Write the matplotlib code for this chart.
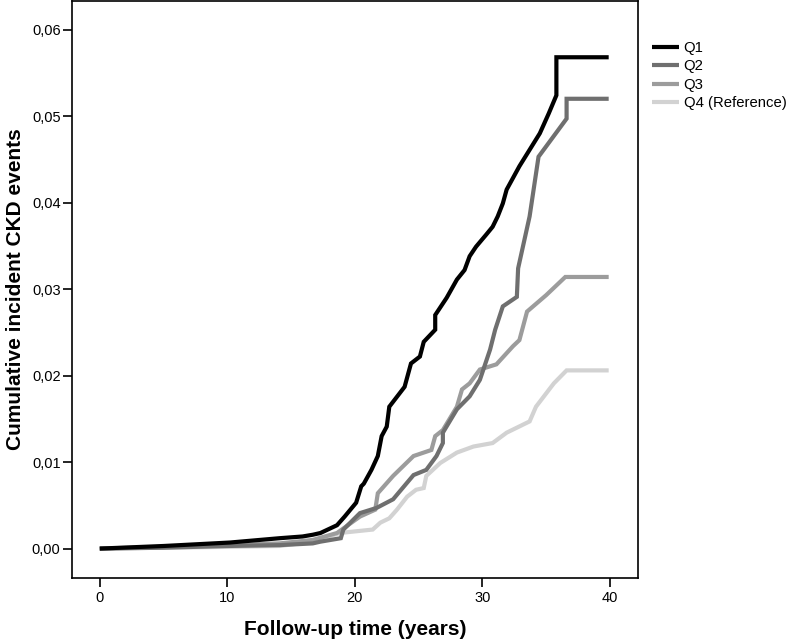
import numpy as np
import matplotlib.pyplot as plt

plt.rcParams['font.family'] = ['Liberation Sans', 'DejaVu Sans']

# follow-up time (years) and cumulative incidence for each quartile
q1_t = [0, 5, 10.2, 14.1, 15.9, 16.7, 17.3, 18.6, 19.2, 20.1, 20.5, 20.7, 21.3, 21.8, 22.1,
        22.5, 22.7, 23.9, 24.4, 25.1, 25.4, 26.3, 26.3, 27.2, 28.0, 28.6, 29.0, 29.5, 30.3,
        30.8, 31.2, 31.6, 31.9, 32.9, 33.7, 34.5, 35.2, 35.8, 35.8, 39.9]
q1_v = [0, 0.0003, 0.0007, 0.0012, 0.0014, 0.0016, 0.0018, 0.0027, 0.0037, 0.0053, 0.0072,
        0.0075, 0.0091, 0.0107, 0.0130, 0.0141, 0.0164, 0.0187, 0.0214, 0.0222, 0.0239,
        0.0253, 0.0270, 0.0290, 0.0311, 0.0322, 0.0338, 0.0349, 0.0363, 0.0372, 0.0384,
        0.0399, 0.0415, 0.0442, 0.0461, 0.0480, 0.0503, 0.0524, 0.0568, 0.0568]

q2_t = [0, 5, 10, 14.1, 16.7, 17.3, 18.9, 19.1, 20.4, 21.7, 23.0, 24.6, 25.6, 26.4, 26.9,
        26.9, 28.0, 29.0, 29.8, 30.6, 31.0, 31.6, 32.7, 32.8, 33.7, 34.4, 36.6, 36.6, 39.9]
q2_v = [0, 0.0001, 0.0003, 0.0004, 0.0006, 0.0008, 0.0012, 0.0022, 0.0041, 0.0047, 0.0057,
        0.0085, 0.0091, 0.0107, 0.0122, 0.0134, 0.0161, 0.0176, 0.0195, 0.0230, 0.0253,
        0.0280, 0.0291, 0.0324, 0.0384, 0.0453, 0.0497, 0.0520, 0.0520]

q3_t = [0, 5, 10, 14.1, 16.7, 18.6, 20.4, 21.6, 21.8, 23.0, 24.6, 26.0, 26.3, 26.9, 28.0,
        28.4, 29.0, 29.8, 31.1, 32.4, 32.9, 33.5, 35.0, 36.5, 39.9]
q3_v = [0, 0.0002, 0.0004, 0.0006, 0.0010, 0.0018, 0.0037, 0.0045, 0.0064, 0.0084, 0.0107,
        0.0114, 0.0130, 0.0137, 0.0164, 0.0184, 0.0191, 0.0207, 0.0213, 0.0234, 0.0241,
        0.0274, 0.0293, 0.0314, 0.0314]

q4_t = [0, 5, 10, 14.1, 16.7, 18.8, 21.4, 22.0, 22.7, 23.3, 24.1, 24.8, 25.4, 25.6, 26.7,
        28.0, 29.3, 30.8, 31.9, 33.7, 34.2, 35.6, 36.6, 39.9]
q4_v = [0, 0.0001, 0.0002, 0.0003, 0.0008, 0.0018, 0.0022, 0.0030, 0.0035, 0.0045, 0.0060,
        0.0068, 0.0070, 0.0084, 0.0099, 0.0111, 0.0118, 0.0122, 0.0134, 0.0147, 0.0164,
        0.0191, 0.0206, 0.0206]

labels = ['Q1', 'Q2', 'Q3', 'Q4 (Reference)']
colors = ['#000000', '#6f6f6f', '#9c9c9c', '#d2d2d2']

fig = plt.figure(figsize=(7.87, 6.43), dpi=100)
ax = fig.add_axes([0.0911, 0.1011, 0.7196, 0.8973])

series = [(q1_t, q1_v), (q2_t, q2_v), (q3_t, q3_v), (q4_t, q4_v)]
# draw lightest first so darker curves sit on top
for i in [3, 2, 1, 0]:
    t, v = series[i]
    ax.plot(t, v, color=colors[i], lw=3, label=labels[i], solid_joinstyle='miter',
            solid_capstyle='butt', zorder=3 + (3 - i))

ax.set_xlim(-2.2, 42.2)
ax.set_ylim(-0.0034, 0.0633)
xt = [0, 10, 20, 30, 40]
yt = [0, 0.01, 0.02, 0.03, 0.04, 0.05, 0.06]
ax.set_xticks(xt)
ax.set_xticklabels([str(x) for x in xt])
ax.set_yticks(yt)
ax.set_yticklabels([('%.2f' % y).replace('.', ',') for y in yt])
ax.tick_params(axis='both', direction='out', length=6.5, width=1.2, labelsize=10.5)
ax.tick_params(axis='y', pad=1.5)
ax.tick_params(axis='x', pad=3)
for s in ax.spines.values():
    s.set_linewidth(1.2)

ax.set_xlabel('Follow-up time (years)', fontsize=15, fontweight='bold', labelpad=11)
ax.set_ylabel('Cumulative incident CKD events', fontsize=15, fontweight='bold', labelpad=5)

handles, labs = ax.get_legend_handles_labels()
order = [labs.index(l) for l in labels]
fig.legend([handles[k] for k in order], labels, loc='upper left',
           bbox_to_anchor=(652 / 787, 1 - 41 / 643), frameon=False, fontsize=10.7,
           handlelength=1.8, handletextpad=0.33, labelspacing=0.3,
           borderpad=0, borderaxespad=0)

plt.savefig('out.png', dpi=100)
